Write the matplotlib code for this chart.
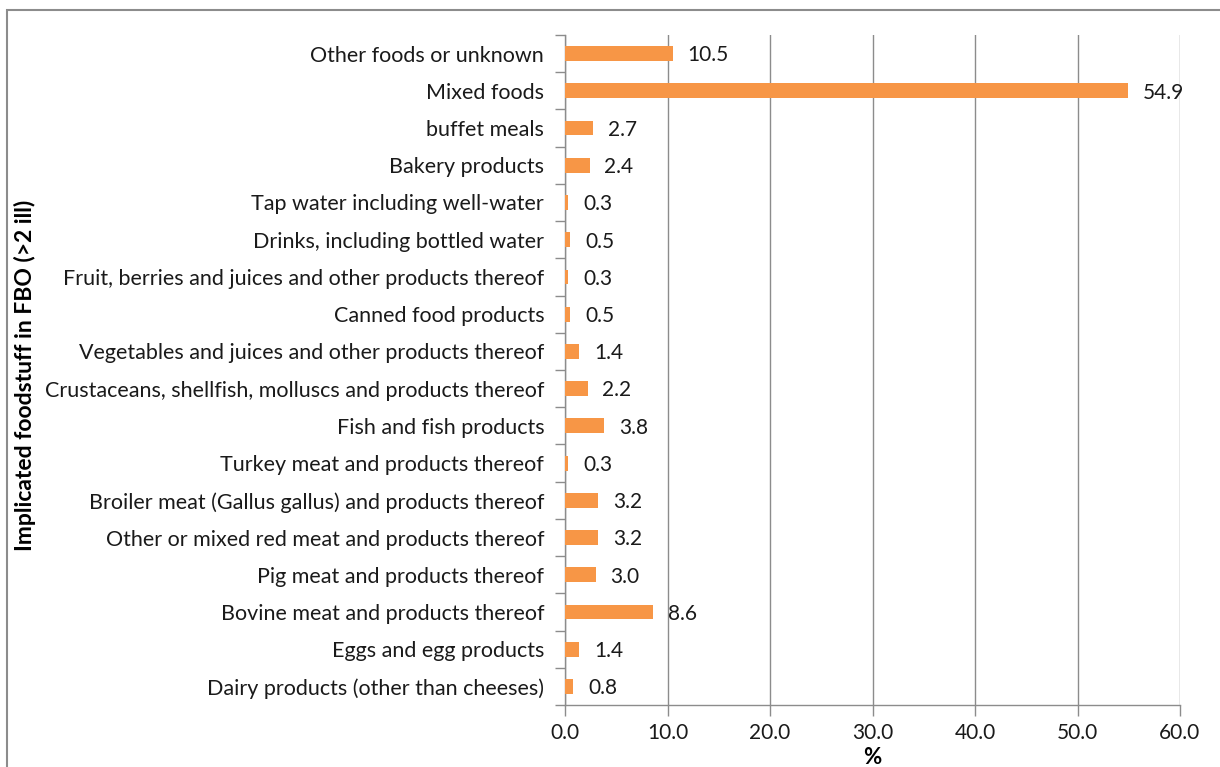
import matplotlib
matplotlib.use("Agg")
import matplotlib.pyplot as plt
from matplotlib.patches import Rectangle

plt.rcParams['font.family'] = ['Lato', 'DejaVu Sans']

categories = [
    "Other foods or unknown",
    "Mixed foods",
    "buffet meals",
    "Bakery products",
    "Tap water including well-water",
    "Drinks, including bottled water",
    "Fruit, berries and juices and other products thereof",
    "Canned food products",
    "Vegetables and juices and other products thereof",
    "Crustaceans, shellfish, molluscs and products thereof",
    "Fish and fish products",
    "Turkey meat and products thereof",
    "Broiler meat (Gallus gallus) and products thereof",
    "Other or mixed red meat and products thereof",
    "Pig meat and products thereof",
    "Bovine meat and products thereof",
    "Eggs and egg products",
    "Dairy products (other than cheeses)",
]
values = [10.5, 54.9, 2.7, 2.4, 0.3, 0.5, 0.3, 0.5, 1.4, 2.2, 3.8, 0.3, 3.2, 3.2, 3.0, 8.6, 1.4, 0.8]
x_ticks = [0, 10, 20, 30, 40, 50, 60]

bar_color = "#F79646"
grid_color = "#8C8C8C"
text_color = "#1a1a1a"

fig = plt.figure(figsize=(12.2, 7.67), dpi=100)

# outer chart frame
fig.patches.append(Rectangle((7 / 1220, -0.1), 1.2, 1 - 10 / 767 + 0.1,
                             transform=fig.transFigure, fill=False,
                             edgecolor="#8C8C8C", linewidth=1.5))

ax = fig.add_axes([565 / 1220, 1 - 705 / 767, 615 / 1220, 670 / 767])
n = len(categories)
ypos = list(range(n))
ax.barh(ypos, values, height=0.4, color=bar_color, zorder=3)
ax.set_ylim(n - 0.5, -0.5)
ax.set_xlim(0, 60)

for y, v in zip(ypos, values):
    ax.text(v + 1.45, y + 0.05, f"{v:.1f}", va="center", ha="left", fontsize=15,
            color=text_color, zorder=4)

ax.set_yticks(ypos)
ax.set_yticklabels(categories, fontsize=15.5, color=text_color)
ax.tick_params(axis="y", length=0, pad=15)
# category separator ticks on the left axis
ax.set_yticks([i - 0.5 for i in range(n + 1)], minor=True)
ax.tick_params(axis="y", which="minor", length=7, color=grid_color, width=1)

ax.set_xticks(x_ticks)
ax.set_xticklabels([f"{t:.1f}" for t in x_ticks], fontsize=15, color=text_color)
ax.tick_params(axis="x", length=8, color=grid_color, width=1, pad=5)

ax.grid(axis="x", color=grid_color, linewidth=1, zorder=0)
ax.set_axisbelow(True)
for side in ("top", "right"):
    ax.spines[side].set_visible(False)
for side in ("left", "bottom"):
    ax.spines[side].set_color(grid_color)
    ax.spines[side].set_linewidth(1)

ax.set_xlabel("%", fontsize=16, fontweight="bold", va="center")
ax.xaxis.set_label_coords(0.5, -(757 - 705) / 670)
fig.text(25 / 1220, 1 - 375 / 767, "Implicated foodstuff in FBO (>2 ill)",
         rotation=90, va="center", ha="center", fontsize=16.5, fontweight="bold")

fig.savefig("out.png", dpi=100)
